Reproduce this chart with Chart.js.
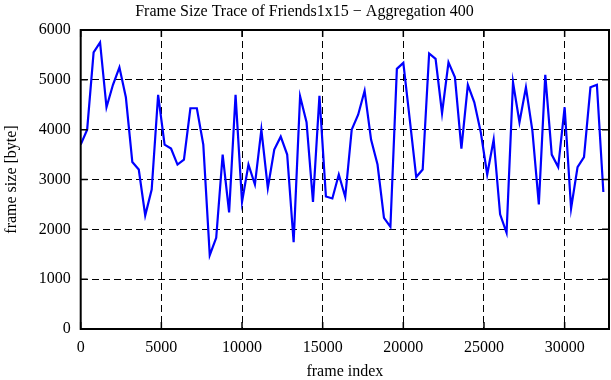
<!DOCTYPE html>
<html>
<head>
<meta charset="utf-8">
<script src="https://cdn.jsdelivr.net/npm/chart.js@4"></script>
<style>
  html, body { margin: 0; padding: 0; background: #fff; }
  #wrap { width: 611px; height: 380px; }
</style>
</head>
<body>
<div id="wrap"><canvas id="grafica" width="611" height="380"></canvas></div>
<script>
const frameIndex = [0, 400, 800, 1200, 1600, 2000, 2400, 2800, 3200, 3600,
  4000, 4400, 4800, 5200, 5600, 6000, 6400, 6800, 7200, 7600,
  8000, 8400, 8800, 9200, 9600, 10000, 10400, 10800, 11200, 11600,
  12000, 12400, 12800, 13200, 13600, 14000, 14400, 14800, 15200, 15600,
  16000, 16400, 16800, 17200, 17600, 18000, 18400, 18800, 19200, 19600,
  20000, 20400, 20800, 21200, 21600, 22000, 22400, 22800, 23200, 23600,
  24000, 24400, 24800, 25200, 25600, 26000, 26400, 26800, 27200, 27600,
  28000, 28400, 28800, 29200, 29600, 30000, 30400, 30800, 31200, 31600,
  32000, 32400];
const frameSize = [3700, 4000, 5550, 5750, 4450, 4900, 5250, 4650, 3350, 3200,
  2280, 2800, 4700, 3700, 3620, 3300, 3400, 4430, 4430, 3700,
  1480, 1830, 3500, 2340, 4700, 2550, 3300, 2900, 4000, 2830,
  3600, 3860, 3500, 1740, 4670, 4150, 2550, 4680, 2660, 2620,
  3100, 2650, 4000, 4300, 4780, 3800, 3300, 2230, 2050, 5220,
  5340, 4200, 3050, 3200, 5530, 5420, 4330, 5350, 5050, 3620,
  4900, 4550, 3950, 3100, 3800, 2300, 1930, 4950, 4150, 4850,
  3980, 2500, 5100, 3500, 3250, 4450, 2420, 3250, 3450, 4850,
  4900, 2750];
const xTicks = [0, 5000, 10000, 15000, 20000, 25000, 30000];
const yTicks = [0, 1000, 2000, 3000, 4000, 5000, 6000];

const fuente = "'Liberation Serif', 'DejaVu Serif', serif";

// marcas hacia dentro en los cuatro lados y marco
const marcasDentro = {
  id: 'marcasDentro',
  afterDraw(chart) {
    const { ctx, chartArea: a, scales: { x, y } } = chart;
    const largo = 7;
    ctx.save();
    ctx.strokeStyle = '#000';
    ctx.lineWidth = 1.5;
    ctx.beginPath();
    xTicks.forEach(v => {
      const px = x.getPixelForValue(v);
      ctx.moveTo(px, a.bottom); ctx.lineTo(px, a.bottom - largo);
      ctx.moveTo(px, a.top); ctx.lineTo(px, a.top + largo);
    });
    yTicks.forEach(v => {
      const py = y.getPixelForValue(v);
      ctx.moveTo(a.left, py); ctx.lineTo(a.left + largo, py);
      ctx.moveTo(a.right, py); ctx.lineTo(a.right - largo, py);
    });
    ctx.stroke();
    ctx.lineWidth = 2;
    ctx.strokeRect(a.left, a.top, a.right - a.left, a.bottom - a.top);
    ctx.restore();
  }
};

const colorRejilla = (c, borde) =>
  (c.tick && borde.includes(c.tick.value)) ? 'rgba(0,0,0,0)' : '#000';

new Chart(document.querySelector('#grafica'), {
  type: 'line',
  data: {
    datasets: [{
      data: frameIndex.map((f, i) => ({ x: f, y: frameSize[i] })),
      borderColor: '#0000ff',
      borderWidth: 2.2,
      pointRadius: 0,
      tension: 0,
      fill: false
    }]
  },
  options: {
    responsive: false,
    animation: false,
    layout: { padding: { top: 0, left: 0, right: 2, bottom: 0 } },
    plugins: {
      legend: { display: false },
      tooltip: { enabled: false },
      title: {
        display: true,
        text: 'Frame Size Trace of Friends1x15 \u2212 Aggregation 400',
        color: '#000',
        font: { family: fuente, size: 16, weight: 'normal', lineHeight: 1.2 },
        padding: { top: 2, bottom: 8.8 }
      }
    },
    scales: {
      x: {
        type: 'linear',
        min: 0,
        max: 32750,
        afterFit: s => { s.height = 51; },
        afterBuildTicks: s => { s.ticks = xTicks.map(v => ({ value: v })); },
        ticks: {
          color: '#000',
          font: { family: fuente, size: 16 },
          padding: 9,
          maxRotation: 0,
          includeBounds: false,
          callback: v => String(v)
        },
        grid: {
          drawTicks: false,
          color: c => colorRejilla(c, [0]),
          lineWidth: 1
        },
        border: { display: false, dash: [7, 4] },
        title: {
          display: true,
          text: 'frame index',
          color: '#000',
          font: { family: fuente, size: 16, lineHeight: 1 },
          padding: 0
        }
      },
      y: {
        min: 0,
        max: 6000,
        afterFit: s => { s.width = 80.7; },
        afterBuildTicks: s => { s.ticks = yTicks.map(v => ({ value: v })); },
        ticks: {
          color: '#000',
          font: { family: fuente, size: 16 },
          padding: 10,
          callback: v => String(v)
        },
        grid: {
          drawTicks: false,
          color: c => colorRejilla(c, [0, 6000]),
          lineWidth: 1
        },
        border: { display: false, dash: [7, 4] },
        title: {
          display: true,
          text: 'frame size [byte]',
          color: '#000',
          font: { family: fuente, size: 16, lineHeight: 1 },
          padding: { top: 4 }
        }
      }
    }
  },
  plugins: [marcasDentro]
});
</script>
</body>
</html>
